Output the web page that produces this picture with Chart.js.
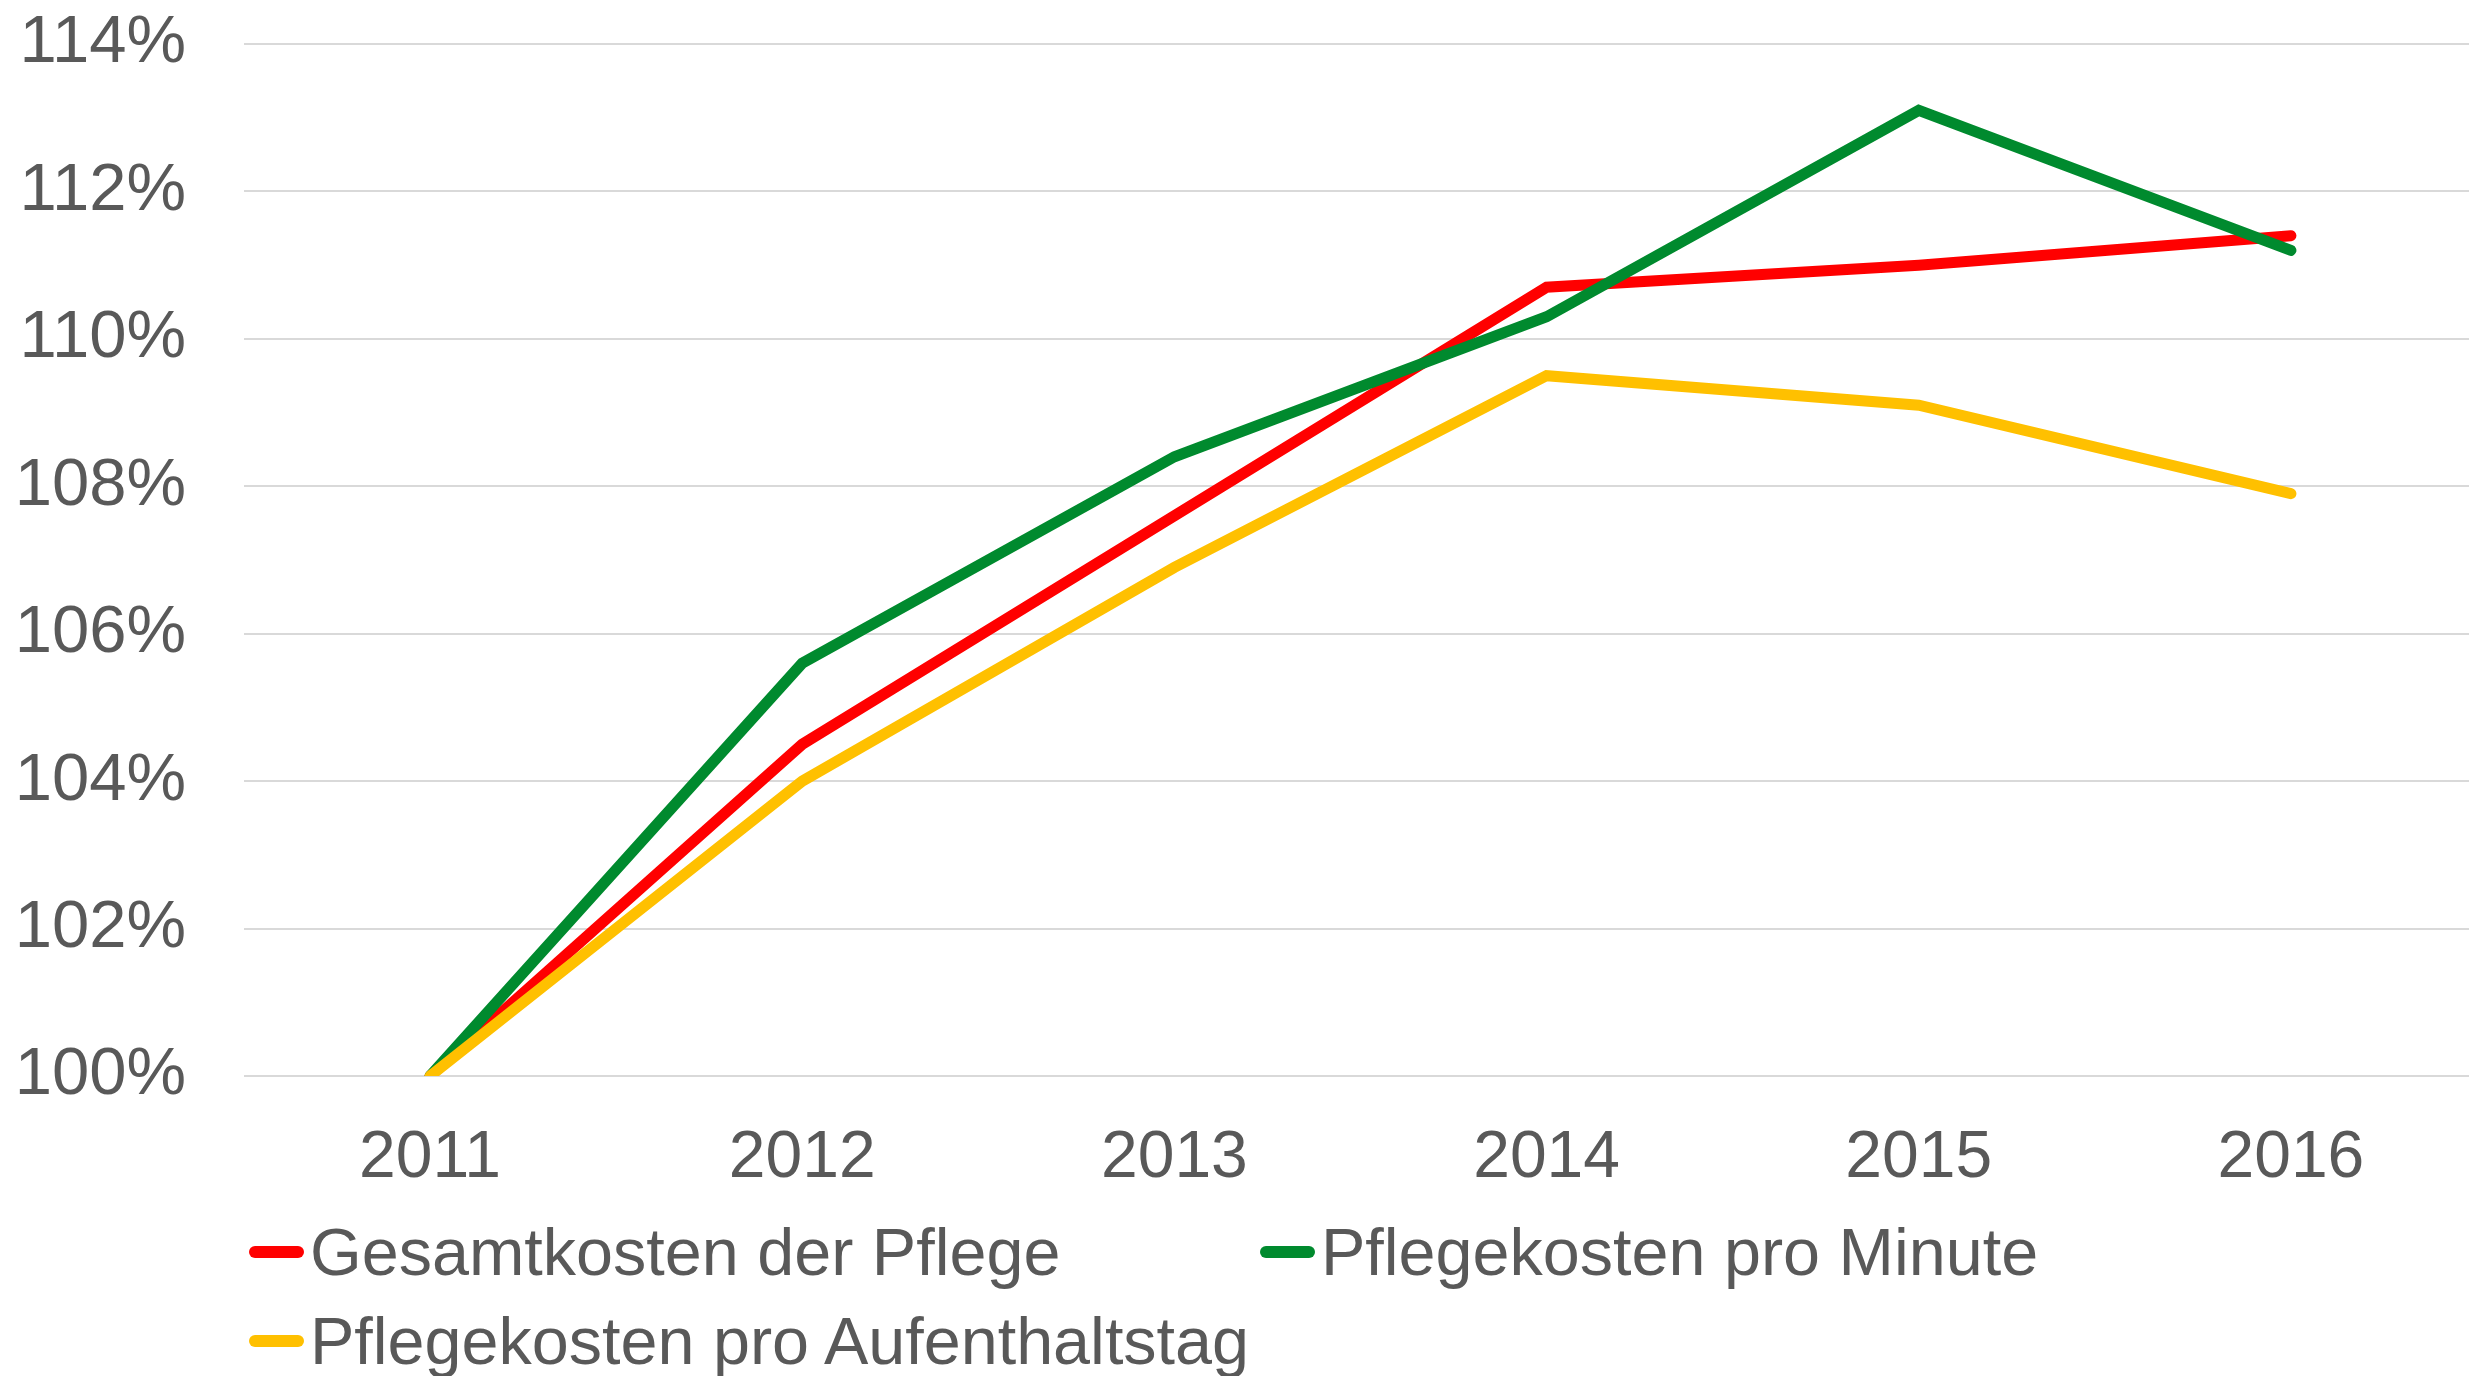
<!DOCTYPE html>
<html lang="de">
<head>
  <meta charset="UTF-8" />
  <title>Pflegekosten 2011-2016</title>
  <script src="https://cdn.jsdelivr.net/npm/chart.js"></script>
  <style>
    html, body {
      margin: 0;
      padding: 0;
      background: #ffffff;
      overflow: hidden;
    }
    #wrap {
      position: relative;
      width: 2469px;
      height: 1376px;
      overflow: hidden;
    }
    #legend {
      position: absolute;
      left: 249px;
      top: 1212px;
      display: grid;
      grid-template-columns: 1011px auto;
      row-gap: 10px;
      font-family: "Liberation Sans", Arial, sans-serif;
      font-size: 66.5px;
      color: #595959;
    }
    .item {
      display: flex;
      align-items: center;
      height: 79px;
      white-space: nowrap;
    }
    .swatch {
      width: 55px;
      height: 12px;
      border-radius: 6px;
      margin-right: 6px;
    }
  </style>
</head>
<body>
  <div id="wrap">
    <!-- etwas breiter als das Fenster, damit die Kategorien wie im Original sitzen -->
    <canvas id="chart" width="2477" height="1376"></canvas>
    <div id="legend"></div>
  </div>

  <script>
    // Daten (Index 2011 = 100%)
    const years = ['2011', '2012', '2013', '2014', '2015', '2016'];
    const gesamtkosten = [100, 104.5, 107.6, 110.7, 111.0, 111.4];
    const proMinute = [100, 105.6, 108.4, 110.3, 113.1, 111.2];
    const proAufenthaltstag = [100, 104.0, 106.9, 109.5, 109.1, 107.9];
    const yTicks = [100, 102, 104, 106, 108, 110, 112, 114];

    const FONT = "'Liberation Sans', Arial, sans-serif";
    const GREY = '#595959';

    const series = [
      { label: 'Gesamtkosten der Pflege', data: gesamtkosten, color: '#FF0000', order: 3 },
      { label: 'Pflegekosten pro Minute', data: proMinute, color: '#008A2E', order: 2 },
      { label: 'Pflegekosten pro Aufenthaltstag', data: proAufenthaltstag, color: '#FFC000', order: 1 }
    ];

    const ctx = document.getElementById('chart').getContext('2d');
    const chart = new Chart(ctx, {
      type: 'line',
      data: {
        labels: years,
        datasets: series.map(s => ({
          label: s.label,
          data: s.data,
          borderColor: s.color,
          backgroundColor: s.color,
          borderWidth: 11,
          borderCapStyle: 'round',
          borderJoinStyle: 'miter',
          pointRadius: 0,
          tension: 0,
          order: s.order
        }))
      },
      options: {
        responsive: false,
        animation: false,
        layout: { padding: { top: 44, right: 0, left: 0, bottom: 0 } },
        plugins: {
          legend: { display: false },
          tooltip: { enabled: false }
        },
        scales: {
          x: {
            offset: true,
            grid: { display: false, drawTicks: false },
            border: { display: false },
            ticks: {
              color: GREY,
              font: { family: FONT, size: 66 },
              padding: 43,
              maxRotation: 0
            },
            afterFit: (scale) => { scale.height = 300; }
          },
          y: {
            min: 100,
            max: 114,
            afterBuildTicks: (scale) => {
              scale.ticks = yTicks.map(v => ({ value: v }));
            },
            grid: { color: '#D9D9D9', lineWidth: 2, drawTicks: false },
            border: { display: false },
            ticks: {
              color: GREY,
              font: { family: FONT, size: 67 },
              padding: 58,
              callback: (v) => v + '%'
            },
            afterFit: (scale) => {
              scale.width = 244;
              scale.paddingTop = 0;
              scale.paddingBottom = 0;
            }
          }
        }
      }
    });

    // Legende (zwei Spalten, wie im Original)
    const legend = document.getElementById('legend');
    series.forEach(s => {
      const item = document.createElement('div');
      item.className = 'item';
      const sw = document.createElement('span');
      sw.className = 'swatch';
      sw.style.background = s.color;
      const txt = document.createElement('span');
      txt.textContent = s.label;
      item.appendChild(sw);
      item.appendChild(txt);
      legend.appendChild(item);
    });
  </script>
</body>
</html>
